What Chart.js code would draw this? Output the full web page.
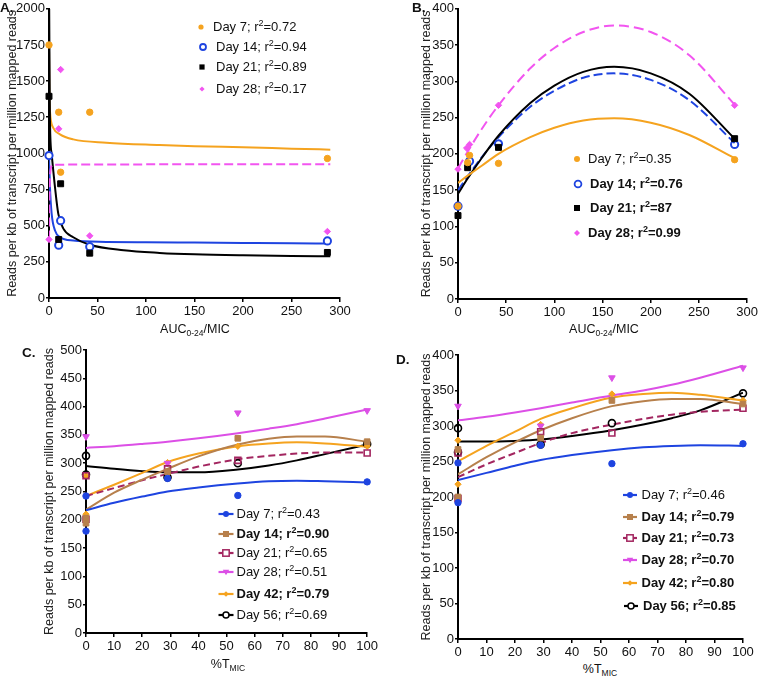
<!DOCTYPE html>
<html><head><meta charset="utf-8">
<script src="https://cdn.jsdelivr.net/npm/chart.js@4.4.1/dist/chart.umd.min.js"></script>
<style>
html,body{margin:0;padding:0;background:#fff;}
body{width:760px;height:676px;position:relative;overflow:hidden;font-family:"Liberation Sans",Arial,Helvetica,sans-serif;color:#111;}
.cv{position:absolute;}
.pl{position:absolute;font-weight:bold;font-size:13.5px;line-height:16px;}
.xt{position:absolute;font-size:12.5px;transform:translate(-50%,-50%);white-space:nowrap;}
.xt sub{font-size:8.5px;vertical-align:-3px;line-height:0;}
.leg{position:absolute;font-size:13px;line-height:16px;white-space:nowrap;}
.leg sup{font-size:9px;vertical-align:5px;line-height:0;}
.lm{position:absolute;overflow:visible;}
</style></head><body>
<script>
// ---------- DATA ----------
const YTITLE = 'Reads per kb of transcript per million mapped reads';
// Panel A (x = AUC0-24/MIC)
const A_x = [0, 10, 12, 42, 287];
const A_d7 = [1750, 1285, 870, 1285, 965];
const A_d14 = [985, 365, 535, 355, 395];
const A_d21 = [1395, 405, 790, 310, 315];
const A_d28 = [405, 1170, 1580, 430, 460];
const A_fit7_x = [0, 0.3, 1, 4.4, 11.3, 25, 59, 114, 150, 200, 250, 290];
const A_fit7_y = [1750, 1450, 1292, 1177, 1132, 1097, 1074, 1058, 1050, 1042, 1033, 1026];
const A_fit14_x = [0, 1, 2.75, 6.2, 11.3, 25, 59, 100, 150, 200, 250, 290];
const A_fit14_y = [988, 765, 582, 467, 421, 397, 388, 385, 383, 381, 379, 377];
const A_fit21_x = [0.2, 1, 2.75, 6.2, 9.6, 14.8, 25, 42, 77, 114, 150, 200, 250, 290];
const A_fit21_y = [2000, 1223, 994, 765, 582, 480, 420, 368, 330, 312, 302, 295, 291, 289];
const A_fit28_x = [0, 0.5, 1.5, 4, 290];
const A_fit28_y = [405, 700, 880, 922, 925];
// Panel B
const B_x7 = [0, 10, 12, 42, 287];     const B_d7 = [128, 188, 198, 187, 192];
const B_x14 = [0, 12, 42, 287];        const B_d14 = [128, 190, 214, 213];
const B_x21 = [0, 10, 42, 287];        const B_d21 = [115, 181, 209, 221];
const B_x28 = [0, 9, 12, 42, 287];     const B_d28 = [179, 208, 213, 267, 267];
const B_fit_x = [0, 10, 25, 42, 75, 100, 130, 162, 200, 240, 287];
const B_fit7 = [160, 170, 184, 200, 223, 236, 246, 249, 243, 226, 194];
const B_fit14 = [150, 169, 196, 223, 265, 287, 305, 311, 302, 274, 215];
const B_fit21 = [145, 166, 195, 225, 270, 294, 313, 320, 311, 283, 221];
const B_fit28 = [180, 203, 235, 267, 318, 346, 368, 377, 368, 336, 268];
// Panel C (x = %T_MIC)
const C_x = [0, 0, 29, 54, 100];
const C_x28 = [0, 29, 54, 100];
const C_d7 = [242, 180, 273, 243, 267];
const C_d14 = [194, 203, 285, 344, 338];
const C_d21 = [278, 201, 290, 305, 318];
const C_d28 = [347, 300, 389, 393];
const C_d42 = [278, 210, 301, 330, 330];
const C_d56 = [313, 280, 275, 300, 334];
const CD_fit_x = [0, 10, 20, 29, 40, 54, 65, 75, 85, 100];
const C_fit7 = [217, 230, 241, 250, 257, 264, 268, 269, 268, 266];
const C_fit14 = [218, 248, 271, 290, 312, 333, 343, 347, 347, 338];
const C_fit21 = [242, 256, 270, 281, 294, 307, 313, 317, 319, 319];
const C_fit28 = [327, 330, 334, 338, 344, 353, 361, 369, 379, 395];
const C_fit42 = [242, 262, 283, 302, 317, 330, 335, 337, 335, 329];
const C_fit56 = [295, 290, 286, 284, 284, 289, 296, 305, 316, 333];
// Panel D
const D_x = [0, 0, 29, 54, 100];
const D_x28 = [0, 29, 54, 100];
const D_d7 = [248, 192, 273, 247, 275];
const D_d14 = [267, 200, 283, 336, 331];
const D_d21 = [262, 198, 292, 290, 325];
const D_d28 = [328, 300, 368, 382];
const D_d42 = [280, 218, 302, 345, 336];
const D_d56 = [297, 263, 274, 304, 346];
const D_fit7 = [224, 234, 244, 252, 259, 266, 270, 272, 273, 272];
const D_fit14 = [232, 256, 277, 294, 311, 328, 335, 338, 338, 331];
const D_fit21 = [228, 246, 262, 276, 290, 302, 310, 316, 320, 323];
const D_fit28 = [308, 313, 319, 325, 333, 343, 350, 358, 368, 385];
const D_fit42 = [250, 272, 292, 310, 325, 340, 345, 347, 344, 336];
const D_fit56 = [278, 278, 279, 281, 286, 294, 302, 311, 322, 347];

// ---------- STYLE ----------
const FONT = '"Liberation Sans", Arial, Helvetica, sans-serif';
const ORANGE = '#F5A31F', BLUE = '#1E44E0', BLACK = '#000000', PINK = '#F255F0';
const BROWN = '#B7804C', MAROON = '#A32660', MAG = '#DC4FE6';

function pts(xs, ys) { return xs.map((x, i) => ({x: x, y: ys[i]})); }

function panel(o) {
  const c = document.createElement('canvas');
  c.width = o.w; c.height = o.h; c.className = 'cv';
  c.style.left = o.left + 'px'; c.style.top = o.top + 'px';
  document.body.appendChild(c);
  const datasets = [];
  o.series.forEach(s => {
    datasets.push({
      label: s.name, data: pts(s.px, s.py), showLine: false,
      pointStyle: s.ps, pointRadius: s.r, pointRotation: s.rot || 0,
      pointBackgroundColor: s.fill, pointBorderColor: s.color, pointBorderWidth: s.bw || 1,
      pointHoverRadius: s.r, clip: false, order: 0
    });
    datasets.push({
      label: s.name + ' fit', data: pts(s.fx, s.fy), showLine: true,
      borderColor: s.color, borderWidth: 2, borderDash: s.dash || [],
      pointRadius: 0, pointHoverRadius: 0, cubicInterpolationMode: 'monotone', fill: false, order: 1
    });
  });
  const tickFont = {family: FONT, size: 13};
  new Chart(c, {
    type: 'scatter',
    data: {datasets},
    options: {
      responsive: false, animation: false, devicePixelRatio: 1,
      events: [],
      layout: {padding: o.pad, autoPadding: false},
      plugins: {legend: {display: false}, tooltip: {enabled: false}},
      scales: {
        x: {
          type: 'linear', min: o.xmin, max: o.xmax,
          ticks: {stepSize: o.xstep, color: '#111', font: tickFont, padding: 2, maxRotation: 0, autoSkip: false, callback: v => String(v)},
          grid: {display: true, drawOnChartArea: false, drawTicks: true, tickLength: 4, color: '#000', lineWidth: 1.5},
          border: {display: true, color: '#000', width: 2},
          afterFit: s => { s.height = o.xh; }
        },
        y: {
          type: 'linear', min: o.ymin, max: o.ymax,
          ticks: {stepSize: o.ystep, color: '#111', font: tickFont, padding: 1, autoSkip: false, callback: v => String(v)},
          grid: {display: true, drawOnChartArea: false, drawTicks: true, tickLength: 3, color: '#000', lineWidth: 1.5},
          border: {display: true, color: '#000', width: 2},
          title: {display: true, text: YTITLE, color: '#222', font: {family: FONT, size: 12.5}, padding: {top: o.tp, bottom: 0}},
          afterFit: s => { s.width = o.yw; }
        }
      }
    }
  });
}

// Panel A
panel({left: 0, top: 0, w: 380, h: 320, yw: 49, xh: 22, tp: 5.5,
  pad: {left: 0, right: 40, top: 7, bottom: 0},
  xmin: 0, xmax: 300, xstep: 50, ymin: 0, ymax: 2000, ystep: 250,
  series: [
    {name: 'Day 28', px: A_x, py: A_d28, fx: A_fit28_x, fy: A_fit28_y, ps: 'rectRot', r: 3.2, color: PINK, fill: PINK, dash: [9, 4]},
    {name: 'Day 21', px: A_x, py: A_d21, fx: A_fit21_x, fy: A_fit21_y, ps: 'rect', r: 4.2, color: BLACK, fill: BLACK},
    {name: 'Day 7', px: A_x, py: A_d7, fx: A_fit7_x, fy: A_fit7_y, ps: 'circle', r: 3.2, color: ORANGE, fill: ORANGE},
    {name: 'Day 14', px: A_x, py: A_d14, fx: A_fit14_x, fy: A_fit14_y, ps: 'circle', r: 3.6, color: BLUE, fill: '#fff', bw: 2}
  ]});

// Panel B
panel({left: 380, top: 0, w: 380, h: 320, yw: 78, xh: 21, tp: 39,
  pad: {left: 0, right: 12, top: 7, bottom: 0},
  xmin: 0, xmax: 300, xstep: 50, ymin: 0, ymax: 400, ystep: 50,
  series: [
    {name: 'Day 28', px: B_x28, py: B_d28, fx: B_fit_x, fy: B_fit28, ps: 'rectRot', r: 3.2, color: PINK, fill: PINK, dash: [10, 5]},
    {name: 'Day 7', px: B_x7, py: B_d7, fx: B_fit_x, fy: B_fit7, ps: 'circle', r: 3.2, color: ORANGE, fill: ORANGE},
    {name: 'Day 21', px: B_x21, py: B_d21, fx: B_fit_x, fy: B_fit21, ps: 'rect', r: 4.2, color: BLACK, fill: BLACK},
    {name: 'Day 14', px: B_x14, py: B_d14, fx: B_fit_x, fy: B_fit14, ps: 'circle', r: 3.6, color: BLUE, fill: 'rgba(255,255,255,0)', bw: 2, dash: [9, 4]}
  ]});

// Panel C
panel({left: 0, top: 340, w: 380, h: 320, yw: 86, xh: 27, tp: 42.5,
  pad: {left: 0, right: 11, top: 10, bottom: 0},
  xmin: 0, xmax: 100, xstep: 10, ymin: 0, ymax: 500, ystep: 50,
  series: [
    {name: 'Day 7', px: C_x, py: C_d7, fx: CD_fit_x, fy: C_fit7, ps: 'circle', r: 3.2, color: BLUE, fill: BLUE},
    {name: 'Day 14', px: C_x, py: C_d14, fx: CD_fit_x, fy: C_fit14, ps: 'rect', r: 4, color: BROWN, fill: BROWN},
    {name: 'Day 21', px: C_x, py: C_d21, fx: CD_fit_x, fy: C_fit21, ps: 'rect', r: 4.2, color: MAROON, fill: 'rgba(255,255,255,0)', bw: 1.6, dash: [7, 4]},
    {name: 'Day 28', px: C_x28, py: C_d28, fx: CD_fit_x, fy: C_fit28, ps: 'triangle', r: 3.8, rot: 180, color: MAG, fill: MAG},
    {name: 'Day 42', px: C_x, py: C_d42, fx: CD_fit_x, fy: C_fit42, ps: 'rectRot', r: 3.2, color: ORANGE, fill: ORANGE},
    {name: 'Day 56', px: C_x, py: C_d56, fx: CD_fit_x, fy: C_fit56, ps: 'circle', r: 3.5, color: BLACK, fill: 'rgba(255,255,255,0)', bw: 1.6}
  ]});

// Panel D
panel({left: 380, top: 340, w: 380, h: 320, yw: 78, xh: 21, tp: 39,
  pad: {left: 0, right: 17, top: 15, bottom: 0},
  xmin: 0, xmax: 100, xstep: 10, ymin: 0, ymax: 400, ystep: 50,
  series: [
    {name: 'Day 7', px: D_x, py: D_d7, fx: CD_fit_x, fy: D_fit7, ps: 'circle', r: 3.2, color: BLUE, fill: BLUE},
    {name: 'Day 14', px: D_x, py: D_d14, fx: CD_fit_x, fy: D_fit14, ps: 'rect', r: 4, color: BROWN, fill: BROWN},
    {name: 'Day 21', px: D_x, py: D_d21, fx: CD_fit_x, fy: D_fit21, ps: 'rect', r: 4.2, color: MAROON, fill: 'rgba(255,255,255,0)', bw: 1.6, dash: [7, 4]},
    {name: 'Day 28', px: D_x28, py: D_d28, fx: CD_fit_x, fy: D_fit28, ps: 'triangle', r: 3.8, rot: 180, color: MAG, fill: MAG},
    {name: 'Day 42', px: D_x, py: D_d42, fx: CD_fit_x, fy: D_fit42, ps: 'rectRot', r: 3.2, color: ORANGE, fill: ORANGE},
    {name: 'Day 56', px: D_x, py: D_d56, fx: CD_fit_x, fy: D_fit56, ps: 'circle', r: 3.5, color: BLACK, fill: 'rgba(255,255,255,0)', bw: 1.6}
  ]});

// ---------- LEGENDS / LABELS ----------
function shape(r) {
  const s = r.size, f = r.fill, c = r.color, bw = r.bw || 0;
  if (r.ps === 'circle') return `<circle cx="0" cy="0" r="${s}" fill="${f}" stroke="${c}" stroke-width="${bw}"/>`;
  if (r.ps === 'rect') return `<rect x="${-s}" y="${-s}" width="${2*s}" height="${2*s}" fill="${f}" stroke="${c}" stroke-width="${bw}"/>`;
  if (r.ps === 'rectRot') return `<polygon points="0,${-s} ${s},0 0,${s} ${-s},0" fill="${f}" stroke="${c}" stroke-width="${bw}"/>`;
  if (r.ps === 'triDown') return `<polygon points="${-s},${-s*0.7} ${s},${-s*0.7} 0,${s}" fill="${f}" stroke="${c}" stroke-width="${bw}"/>`;
  return '';
}
function addLegend(rows) {
  let html = '';
  rows.forEach(r => {
    html += `<svg class="lm" style="left:${r.mx - 12}px;top:${r.y - 8}px" width="24" height="16" viewBox="-12 -8 24 16">`;
    if (r.line) html += `<line x1="${-r.line}" y1="0" x2="${r.line}" y2="0" stroke="${r.color}" stroke-width="2.2"/>`;
    html += shape(r) + '</svg>';
    html += `<div class="leg" style="left:${r.tx}px;top:${r.y - 8}px;${r.bold ? 'font-weight:bold;' : ''}">${r.text}</div>`;
  });
  document.body.insertAdjacentHTML('beforeend', html);
}
const R2 = 'r<sup>2</sup>';
addLegend([
  {ps: 'circle', size: 2.6, color: ORANGE, fill: ORANGE, mx: 201, tx: 213, y: 26.5, text: `Day 7; ${R2}=0.72`},
  {ps: 'circle', size: 3, color: BLUE, fill: '#fff', bw: 1.8, mx: 203, tx: 216, y: 46.5, text: `Day 14; ${R2}=0.94`},
  {ps: 'rect', size: 2.6, color: BLACK, fill: BLACK, mx: 202, tx: 216, y: 67, text: `Day 21; ${R2}=0.89`},
  {ps: 'rectRot', size: 2.6, color: PINK, fill: PINK, mx: 202, tx: 216, y: 89, text: `Day 28; ${R2}=0.17`},

  {ps: 'circle', size: 3, color: ORANGE, fill: ORANGE, mx: 577, tx: 588, y: 158.5, text: `Day 7; ${R2}=0.35`},
  {ps: 'circle', size: 3.4, color: BLUE, fill: '#fff', bw: 1.8, mx: 578, tx: 590, y: 183.5, bold: true, text: `Day 14; ${R2}=0.76`},
  {ps: 'rect', size: 3, color: BLACK, fill: BLACK, mx: 577, tx: 590, y: 208, bold: true, text: `Day 21; ${R2}=87`},
  {ps: 'rectRot', size: 3, color: PINK, fill: PINK, mx: 577, tx: 588, y: 232.5, bold: true, text: `Day 28; ${R2}=0.99`},

  {ps: 'circle', size: 3, color: BLUE, fill: BLUE, line: 7.5, mx: 225.5, tx: 236.5, y: 514, text: `Day 7; ${R2}=0.43`},
  {ps: 'rect', size: 3, color: BROWN, fill: BROWN, line: 7.5, mx: 225.5, tx: 236.5, y: 533.5, bold: true, text: `Day 14; ${R2}=0.90`},
  {ps: 'rect', size: 3.2, color: MAROON, fill: '#fff', bw: 1.5, line: 7.5, mx: 225.5, tx: 236.5, y: 553, text: `Day 21; ${R2}=0.65`},
  {ps: 'triDown', size: 3.2, color: MAG, fill: MAG, line: 7.5, mx: 225.5, tx: 236.5, y: 572, text: `Day 28; ${R2}=0.51`},
  {ps: 'rectRot', size: 2.8, color: ORANGE, fill: ORANGE, line: 7.5, mx: 225.5, tx: 236.5, y: 594, bold: true, text: `Day 42; ${R2}=0.79`},
  {ps: 'circle', size: 3, color: BLACK, fill: '#fff', bw: 1.5, line: 7.5, mx: 225.5, tx: 236.5, y: 615, text: `Day 56; ${R2}=0.69`},

  {ps: 'circle', size: 3, color: BLUE, fill: BLUE, line: 7, mx: 630, tx: 641.5, y: 494.5, text: `Day 7; ${R2}=0.46`},
  {ps: 'rect', size: 3, color: BROWN, fill: BROWN, line: 7, mx: 630, tx: 641.5, y: 516.5, bold: true, text: `Day 14; ${R2}=0.79`},
  {ps: 'rect', size: 3.2, color: MAROON, fill: '#fff', bw: 1.5, line: 7, mx: 630, tx: 641.5, y: 537.5, bold: true, text: `Day 21; ${R2}=0.73`},
  {ps: 'triDown', size: 3.2, color: MAG, fill: MAG, line: 7, mx: 630, tx: 641.5, y: 559.5, bold: true, text: `Day 28; ${R2}=0.70`},
  {ps: 'rectRot', size: 2.8, color: ORANGE, fill: ORANGE, line: 7, mx: 630, tx: 641.5, y: 582.5, bold: true, text: `Day 42; ${R2}=0.80`},
  {ps: 'circle', size: 3, color: BLACK, fill: '#fff', bw: 1.5, line: 7, mx: 631, tx: 643, y: 605.5, bold: true, text: `Day 56; ${R2}=0.85`}
]);

document.body.insertAdjacentHTML('beforeend', `
<div class="pl" style="left:0px;top:0px">A.</div>
<div class="pl" style="left:412px;top:0px">B.</div>
<div class="pl" style="left:22px;top:345px">C.</div>
<div class="pl" style="left:396px;top:352px">D.</div>
<div class="xt" style="left:195px;top:329px">AUC<sub>0-24</sub>/MIC</div>
<div class="xt" style="left:604px;top:329px">AUC<sub>0-24</sub>/MIC</div>
<div class="xt" style="left:228px;top:664px">%T<sub>MIC</sub></div>
<div class="xt" style="left:600px;top:669px">%T<sub>MIC</sub></div>
`);
</script>
</body></html>
